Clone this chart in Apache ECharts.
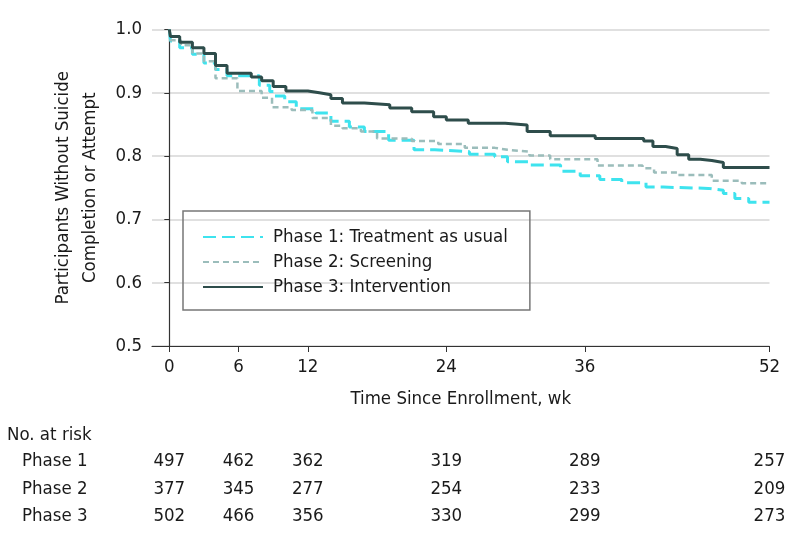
<!DOCTYPE html>
<html>
<head>
<meta charset="utf-8">
<script src="https://cdn.jsdelivr.net/npm/echarts@6/dist/echarts.min.js"></script>
<style>
html,body{margin:0;padding:0;background:#fff;}
#c{width:794px;height:546px;}
</style>
</head>
<body>
<div id="c"></div>
<script>
// ---- data ----
var seriesNames = ['Phase 1: Treatment as usual', 'Phase 2: Screening', 'Phase 3: Intervention'];
var xTicks = [0, 6, 12, 24, 36, 52];
var yTicks = [0.5, 0.6, 0.7, 0.8, 0.9, 1.0];

var phase1Weeks  = [0, 0.1, 0.9, 2.0, 3.0, 4.0, 5.0, 7.8, 8.7, 9.1, 10.0, 11.0, 12.7, 14.0, 15.6, 16.9, 19.0, 21.2, 23.0, 26.0, 28.2, 29.3, 31.2, 33.9, 35.6, 37.3, 39.2, 41.3, 42.8, 46.7, 48.0, 49.0, 50.2, 52];
var phase1Values = [1.0, 0.982, 0.971, 0.961, 0.947, 0.937, 0.927, 0.912, 0.902, 0.895, 0.886, 0.875, 0.868, 0.855, 0.846, 0.839, 0.825, 0.810, 0.807, 0.803, 0.799, 0.791, 0.786, 0.776, 0.769, 0.763, 0.758, 0.751, 0.749, 0.746, 0.741, 0.733, 0.727, 0.727];

var phase2Weeks  = [0, 0.1, 1.0, 2.0, 3.0, 4.0, 5.9, 8.0, 8.9, 10.6, 12.4, 14.0, 15.0, 16.6, 18.0, 21.0, 23.3, 25.6, 28.2, 29.3, 31.2, 33.0, 37.1, 41.0, 42.0, 44.0, 47.0, 49.6, 52];
var phase2Values = [1.0, 0.983, 0.975, 0.962, 0.950, 0.923, 0.903, 0.892, 0.877, 0.873, 0.860, 0.848, 0.844, 0.839, 0.828, 0.824, 0.819, 0.813, 0.810, 0.807, 0.801, 0.795, 0.785, 0.781, 0.774, 0.770, 0.761, 0.757, 0.757];

var phase3Weeks  = [0, 0.1, 0.9, 2.0, 3.0, 4.0, 5.0, 7.1, 8.0, 9.0, 10.1, 12.0, 13.0, 14.0, 15.0, 16.9, 19.1, 21.0, 22.9, 24.0, 25.9, 29.1, 31.0, 33.0, 36.9, 41.1, 41.9, 43.0, 44.0, 45.0, 46.0, 47.0, 48.0, 52];
var phase3Values = [1.0, 0.989, 0.980, 0.971, 0.962, 0.943, 0.931, 0.925, 0.919, 0.910, 0.903, 0.900, 0.897, 0.891, 0.884, 0.881, 0.876, 0.870, 0.862, 0.857, 0.852, 0.849, 0.839, 0.832, 0.828, 0.824, 0.815, 0.812, 0.802, 0.795, 0.793, 0.790, 0.782, 0.782];

var riskRows   = ['Phase 1', 'Phase 2', 'Phase 3'];
var riskWeeks  = [0, 6, 12, 24, 36, 52];
var riskPhase1 = [497, 462, 362, 319, 289, 257];
var riskPhase2 = [377, 345, 277, 254, 233, 209];
var riskPhase3 = [502, 466, 356, 330, 299, 273];

// ---- build ----
var FONT = '"DejaVu Sans Condensed", "Liberation Sans Narrow", "DejaVu Sans", sans-serif';
var TXT = '#1a1a1a';
var FS = 18.5;
function pairs(w, v) { return w.map(function (x, i) { return [x, v[i]]; }); }
var riskData = [];
[riskPhase1, riskPhase2, riskPhase3].forEach(function (arr, r) {
  arr.forEach(function (n, i) { riskData.push([riskWeeks[i], riskRows[r], n]); });
});

var chart = echarts.init(document.getElementById('c'), null, {renderer: 'canvas'});
chart.setOption({
  animation: false,
  backgroundColor: '#ffffff',
  textStyle: {fontFamily: FONT},
  grid: [
    {left: 152, right: 24.5, top: 29.5, height: 316.5, containLabel: false},
    {left: 152, right: 24.5, top: 448, height: 81.6, containLabel: false}
  ],
  legend: {
    orient: 'vertical',
    left: 183, top: 211,
    padding: [16.5, 22, 13.5, 19],
    borderColor: '#777', borderWidth: 1.5,
    itemWidth: 60, itemHeight: 14, itemGap: 6,
    data: seriesNames,
    itemStyle: {color: 'rgba(0,0,0,0)', borderColor: 'rgba(0,0,0,0)', borderWidth: 0, opacity: 0},
    textStyle: {fontFamily: FONT, fontSize: FS, color: TXT, padding: [0, 0, 0, 5]}
  },
  graphic: [{
    type: 'text', left: 7, top: 426,
    style: {text: 'No. at risk', font: FS + 'px ' + FONT, fill: TXT}
  }],
  xAxis: [{
    gridIndex: 0, type: 'value', min: -1.5, max: 52,
    axisLine: {lineStyle: {color: '#333', width: 1.2}},
    axisTick: {show: true, length: 6, customValues: xTicks, lineStyle: {color: '#333'}},
    axisLabel: {customValues: xTicks, fontSize: FS, color: TXT, margin: 12, fontFamily: FONT},
    splitLine: {show: false},
    name: 'Time Since Enrollment, wk', nameLocation: 'middle', nameGap: 44,
    nameTextStyle: {fontSize: FS, color: TXT, fontFamily: FONT}
  }, {
    gridIndex: 1, type: 'value', min: -1.5, max: 52, show: false
  }],
  yAxis: [{
    gridIndex: 0, type: 'value', min: 0.5, max: 1.0, interval: 0.1,
    axisLine: {show: true, lineStyle: {color: '#333', width: 1.2}},
    axisTick: {show: true, length: 5, lineStyle: {color: '#333'}},
    axisLabel: {fontSize: FS, color: TXT, margin: 10, fontFamily: FONT,
      formatter: function (v) { return v.toFixed(1); }},
    splitLine: {show: true, lineStyle: {color: '#d6d6d6', width: 1.5}},
    name: 'Participants Without Suicide\nCompletion or Attempt',
    nameLocation: 'middle', nameRotate: 90, nameGap: 48,
    nameTextStyle: {fontSize: FS, color: TXT, lineHeight: 27, fontFamily: FONT}
  }, {
    gridIndex: 1, type: 'category', data: riskRows, inverse: true,
    axisLine: {show: false}, axisTick: {show: false}, splitLine: {show: false},
    axisLabel: {align: 'left', margin: 130, fontSize: FS, color: TXT, fontFamily: FONT}
  }],
  series: [{
    name: seriesNames[0], type: 'line', step: 'end', symbol: 'none',
    data: pairs(phase1Weeks, phase1Values),
    lineStyle: {color: '#3EE3EE', width: 3, type: [13, 6]},
    itemStyle: {color: '#3EE3EE'}, z: 2
  }, {
    name: seriesNames[1], type: 'line', step: 'end', symbol: 'none',
    data: pairs(phase2Weeks, phase2Values),
    lineStyle: {color: '#9BBDBB', width: 2.5, type: [6, 4]},
    itemStyle: {color: '#9BBDBB'}, z: 3
  }, {
    name: seriesNames[2], type: 'line', step: 'end', symbol: 'none',
    data: pairs(phase3Weeks, phase3Values),
    lineStyle: {color: '#2E4D4B', width: 3, type: 'solid'},
    itemStyle: {color: '#2E4D4B'}, z: 4
  }, {
    name: 'risk', type: 'scatter', xAxisIndex: 1, yAxisIndex: 1,
    symbolSize: 1, itemStyle: {color: 'rgba(0,0,0,0)', opacity: 1},
    data: riskData, silent: true,
    label: {show: true, position: 'inside', fontSize: FS, color: TXT, opacity: 1, fontFamily: FONT,
      formatter: function (p) { return String(p.value[2]); }}
  }]
});
</script>
</body>
</html>
